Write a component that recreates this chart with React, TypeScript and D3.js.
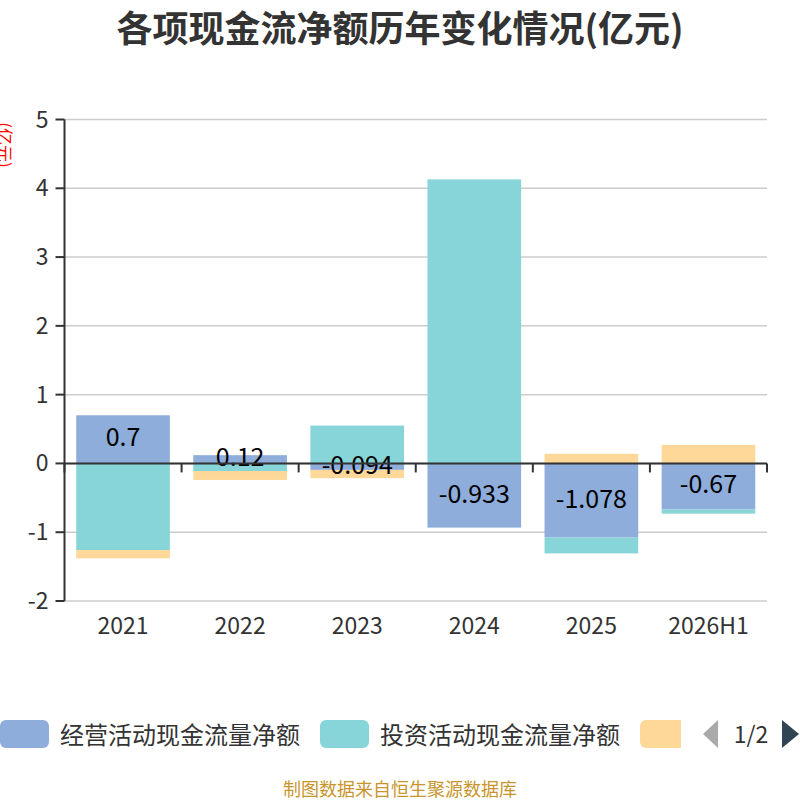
import * as d3 from "d3";

// Net cash flows by year (亿元)
const categories = ["2021", "2022", "2023", "2024", "2025", "2026H1"];
const seriesNames = ["经营活动现金流量净额", "投资活动现金流量净额", "筹资活动现金流量净额"];
const operating = [0.7, 0.12, -0.094, -0.933, -1.078, -0.67];
const investing = [-1.26, -0.11, 0.55, 4.13, -0.23, -0.06];
const financing = [-0.12, -0.13, -0.12, 0, 0.14, 0.27];
const yTicks = [-2, -1, 0, 1, 2, 3, 4, 5];

const COLORS = ["#8eaddb", "#87d5d8", "#fed898"];
const FONT = '"Noto Sans CJK SC", "Noto Sans", sans-serif';

const W = 800;
const H = 800;
const PLOT = { left: 64.5, right: 767, top: 119.5, bottom: 601 };

type Row = { cat: string; op: number; inv: number; fin: number };

export default function App() {
  const rows: Row[] = categories.map((c, i) => ({
    cat: c,
    op: operating[i],
    inv: investing[i],
    fin: financing[i],
  }));

  const x = d3
    .scaleBand<string>()
    .domain(categories)
    .range([PLOT.left, PLOT.right])
    .paddingInner(0.2)
    .paddingOuter(0.1);

  const y = d3.scaleLinear().domain([-2, 5]).range([PLOT.bottom, PLOT.top]);

  // echarts-style stacking: positives and negatives pile up separately
  const stacked = d3
    .stack<Row>()
    .keys(["op", "inv", "fin"])
    .offset(d3.stackOffsetDiverging)(rows);

  const step = x.step();
  const y0 = y(0);
  const boundaries = d3.range(categories.length + 1).map((i) => PLOT.left + i * step);

  return (
    <svg
      width={W}
      height={H}
      style={{ position: "absolute", left: 0, top: 0, background: "#fff" }}
      fontFamily={FONT}
    >
      <text
        x={W / 2}
        y={26}
        textAnchor="middle"
        dominantBaseline="central"
        fontSize={36}
        fontWeight="bold"
        fill="#333"
      >
        各项现金流净额历年变化情况(亿元)
      </text>

      {/* y axis name, partly cut off at the left edge */}
      <text
        transform={`translate(5,145) rotate(90)`}
        textAnchor="middle"
        dominantBaseline="central"
        fontSize={17}
        fill="#ff0000"
      >
        (亿元)
      </text>

      {/* grid */}
      {yTicks.map((t) => (
        <line
          key={t}
          x1={PLOT.left}
          x2={PLOT.right}
          y1={y(t)}
          y2={y(t)}
          stroke="#ccc"
          strokeWidth={1.5}
        />
      ))}

      {/* bars */}
      {stacked.map((layer, si) => (
        <g key={layer.key} fill={COLORS[si]}>
          {layer.map((d, i) => {
            const top = y(Math.max(d[0], d[1]));
            const bot = y(Math.min(d[0], d[1]));
            if (bot - top <= 0) return null;
            return (
              <rect
                key={i}
                x={x(categories[i])}
                y={top}
                width={x.bandwidth()}
                height={bot - top}
              />
            );
          })}
        </g>
      ))}

      {/* operating labels in the middle of the blue bars */}
      {stacked[0].map((d, i) => (
        <text
          key={i}
          x={(x(categories[i]) ?? 0) + x.bandwidth() / 2}
          y={(y(d[0]) + y(d[1])) / 2 - 4}
          textAnchor="middle"
          dominantBaseline="central"
          fontSize={25}
          fill="#000"
        >
          {operating[i]}
        </text>
      ))}

      {/* y axis */}
      <line x1={PLOT.left} x2={PLOT.left} y1={PLOT.top} y2={PLOT.bottom} stroke="#333" strokeWidth={2} />
      {yTicks.map((t) => (
        <g key={t}>
          <line x1={PLOT.left - 9} x2={PLOT.left} y1={y(t)} y2={y(t)} stroke="#333" strokeWidth={2} />
          <text
            x={PLOT.left - 16}
            y={y(t) - 2}
            textAnchor="end"
            dominantBaseline="central"
            fontSize={23}
            fill="#333"
          >
            {t}
          </text>
        </g>
      ))}

      {/* x axis on zero */}
      <line x1={PLOT.left} x2={PLOT.right} y1={y0} y2={y0} stroke="#333" strokeWidth={2} />
      {boundaries.map((bx, i) => (
        <line key={i} x1={bx} x2={bx} y1={y0} y2={y0 + 9} stroke="#333" strokeWidth={2} />
      ))}
      {categories.map((c) => (
        <text
          key={c}
          x={(x(c) ?? 0) + x.bandwidth() / 2}
          y={624}
          textAnchor="middle"
          dominantBaseline="central"
          fontSize={23}
          fill="#333"
        >
          {c}
        </text>
      ))}

      {/* legend (paged, third item cut off) */}
      <defs>
        <clipPath id="legend-clip">
          <rect x={0} y={700} width={681} height={60} />
        </clipPath>
      </defs>
      <g clipPath="url(#legend-clip)">
        {seriesNames.map((name, i) => (
          <g key={name} transform={`translate(${i * 320},720)`}>
            <rect x={0} y={0} width={49} height={28} rx={6} fill={COLORS[i]} />
            <text x={60} y={13} dominantBaseline="central" fontSize={24} fill="#333">
              {name}
            </text>
          </g>
        ))}
      </g>
      <path d="M718,720 L703,734 L718,748 Z" fill="#aaa" />
      <text x={751} y={733} textAnchor="middle" dominantBaseline="central" fontSize={23} fill="#333">
        1/2
      </text>
      <path d="M782,720 L799,734 L782,748 Z" fill="#2f4554" />

      <text
        x={W / 2}
        y={788}
        textAnchor="middle"
        dominantBaseline="central"
        fontSize={18}
        fill="#c8952c"
      >
        制图数据来自恒生聚源数据库
      </text>
    </svg>
  );
}
